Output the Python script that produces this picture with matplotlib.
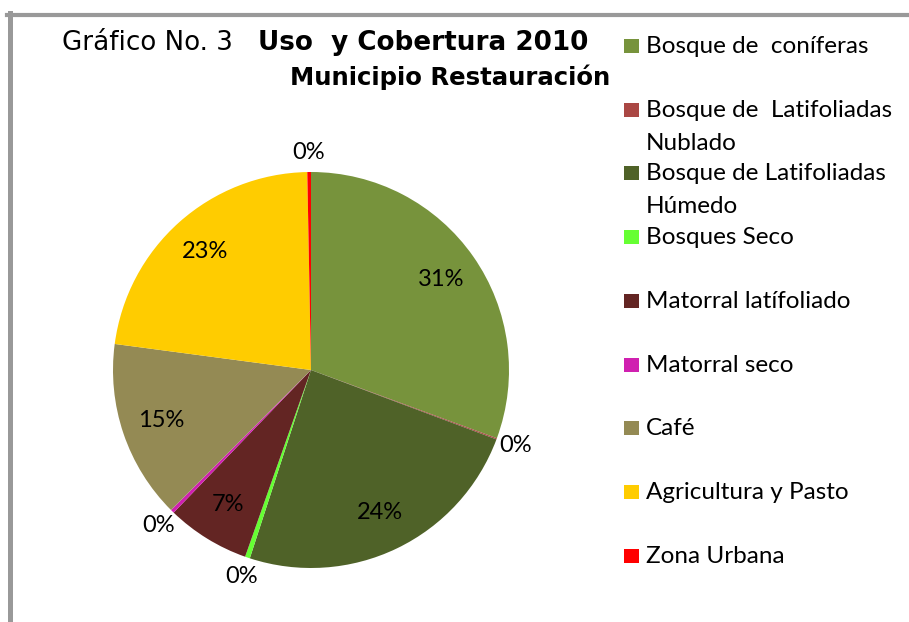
import numpy as np
import matplotlib.pyplot as plt
from matplotlib.lines import Line2D
from matplotlib.patches import Rectangle

# Uso y cobertura 2010, Municipio Restauración (porcentaje del área)
categorias = ["Bosque de  coníferas",
              "Bosque de  Latifoliadas\nNublado",
              "Bosque de Latifoliadas\nHúmedo",
              "Bosques Seco",
              "Matorral latífoliado",
              "Matorral seco",
              "Café",
              "Agricultura y Pasto",
              "Zona Urbana"]
porcentajes = [30.6, 0.1, 24.3, 0.4, 6.8, 0.3, 14.6, 22.6, 0.3]
colores = ["#77933C", "#AA4744", "#4F6228", "#66FF33", "#632523",
           "#D020B0", "#948A54", "#FFCC00", "#FF0000"]

W, H = 909, 622
fig = plt.figure(figsize=(W / 100, H / 100), dpi=100)


def fx(px):
    return px / W


def fy(py):
    return 1 - py / H


# marco gris (sólo se ven el borde superior e izquierdo)
fig.add_artist(Line2D([fx(7), 1.0], [fy(14.5), fy(14.5)], color="#999999",
                      linewidth=3.0, transform=fig.transFigure))
fig.add_artist(Line2D([fx(9.5), fx(9.5)], [fy(13), 0.0], color="#999999",
                      linewidth=3.6, transform=fig.transFigure))

# título
fig.text(fx(62), fy(50), "Gráfico No. 3", fontsize=18.8, family="DejaVu Sans",
         va="baseline", ha="left")
fig.text(fx(258), fy(50), "Uso  y Cobertura 2010", fontsize=18.9,
         family="DejaVu Sans", fontweight="bold", va="baseline", ha="left")
fig.text(fx(290), fy(85), "Municipio Restauración", fontsize=17.6,
         family="DejaVu Sans", fontweight="bold", va="baseline", ha="left")

# pastel
cx, cy, r = 311, 370, 198
ax = fig.add_axes([fx(cx - r), fy(cy + r), 2 * r / W, 2 * r / H])
wedges, textos, pcts = ax.pie(porcentajes, colors=colores, startangle=90,
                              counterclock=False,
                              wedgeprops=dict(linewidth=0),
                              autopct=lambda p: f"{p:.0f}%", pctdistance=0.8,
                              textprops=dict(fontsize=17, family="Lato"))
ax.set_xlim(-1, 1)
ax.set_ylim(-1, 1)
ax.set_aspect("auto")
ax.axis("off")

for w, t, v in zip(wedges, pcts, porcentajes):
    if v < 1:
        ang = np.deg2rad((w.theta1 + w.theta2) / 2)
        rr = 1.13 if 200 < (w.theta1 + w.theta2) / 2 < 240 else 1.1
        t.set_position((rr * np.cos(ang), rr * np.sin(ang)))
    t.set_ha("center")
    t.set_va("center")
    t.set_color("black")

# leyenda
y0, paso = 46, 63.7
for i, (cat, col) in enumerate(zip(categorias, colores)):
    yc = y0 + i * paso
    fig.add_artist(Rectangle((fx(624), fy(yc + 7)), 15 / W, 14 / H,
                             facecolor=col, edgecolor="none",
                             transform=fig.transFigure))
    for k, linea in enumerate(cat.split("\n")):
        fig.text(fx(646), fy(yc + 7 + 33 * k), linea, fontsize=17.5,
                 family="Lato", va="baseline", ha="left")

fig.savefig("out.png", dpi=100)
